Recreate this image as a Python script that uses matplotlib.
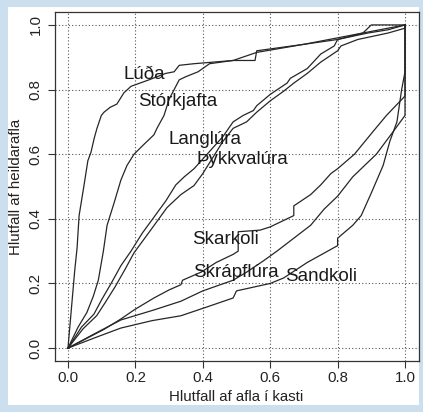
import matplotlib.pyplot as plt
from matplotlib.patches import Rectangle

plt.rcParams['font.family'] = ['Liberation Sans', 'DejaVu Sans']

# Cumulative share of total catch vs share of the catch in each haul
luda_x = [0, 0.01, 0.02, 0.027, 0.033, 0.047, 0.059, 0.068, 0.078, 0.086, 0.099, 0.107, 0.125, 0.145,
          0.166, 0.187, 0.24, 0.29, 0.315, 0.33, 0.374, 0.49, 0.555, 0.56, 0.70, 0.80, 0.875, 0.90, 1.0]
luda_y = [0, 0.12, 0.24, 0.31, 0.41, 0.50, 0.58, 0.605, 0.65, 0.68, 0.72, 0.73, 0.745, 0.755,
          0.79, 0.81, 0.83, 0.85, 0.855, 0.875, 0.88, 0.89, 0.89, 0.92, 0.94, 0.955, 0.975, 1.0, 1.0]

storkjafta_x = [0, 0.03, 0.056, 0.075, 0.09, 0.105, 0.116, 0.137, 0.157, 0.175, 0.196, 0.225, 0.255,
                0.264, 0.285, 0.30, 0.32, 0.33, 0.35, 0.374, 0.386, 0.42, 0.49, 0.56, 0.70, 0.80, 0.90, 1.0]
storkjafta_y = [0, 0.065, 0.11, 0.16, 0.21, 0.30, 0.38, 0.45, 0.52, 0.565, 0.60, 0.63, 0.66,
                0.68, 0.72, 0.77, 0.81, 0.83, 0.84, 0.85, 0.855, 0.88, 0.89, 0.915, 0.94, 0.96, 0.98, 1.0]

langlura_x = [0, 0.04, 0.077, 0.10, 0.128, 0.157, 0.187, 0.22, 0.255, 0.29, 0.32, 0.345, 0.374, 0.40,
              0.43, 0.46, 0.49, 0.52, 0.55, 0.56, 0.60, 0.65, 0.66, 0.71, 0.75, 0.79, 0.80, 0.89, 0.95, 1.0]
langlura_y = [0, 0.065, 0.105, 0.15, 0.20, 0.255, 0.30, 0.355, 0.405, 0.455, 0.505, 0.53, 0.555, 0.585,
              0.62, 0.655, 0.70, 0.72, 0.735, 0.75, 0.785, 0.82, 0.835, 0.865, 0.91, 0.935, 0.955, 0.975, 0.985, 1.0]

thykkvalura_x = [0, 0.045, 0.085, 0.11, 0.14, 0.17, 0.196, 0.246, 0.294, 0.335, 0.374, 0.40, 0.43, 0.46,
                 0.49, 0.53, 0.56, 0.60, 0.64, 0.67, 0.71, 0.75, 0.80, 0.81, 0.86, 0.905, 0.95, 1.0, 1.0]
thykkvalura_y = [0, 0.06, 0.10, 0.14, 0.19, 0.245, 0.295, 0.366, 0.435, 0.475, 0.503, 0.54, 0.59, 0.64,
                 0.68, 0.70, 0.73, 0.765, 0.795, 0.82, 0.85, 0.885, 0.92, 0.935, 0.955, 0.965, 0.975, 0.99, 1.0]

skarkoli_x = [0, 0.05, 0.107, 0.157, 0.196, 0.255, 0.30, 0.335, 0.34, 0.395, 0.44, 0.49, 0.505, 0.505,
              0.57, 0.60, 0.65, 0.67, 0.67, 0.72, 0.75, 0.78, 0.80, 0.85, 0.905, 0.945, 1.0, 1.0]
skarkoli_y = [0, 0.027, 0.058, 0.09, 0.118, 0.155, 0.18, 0.196, 0.21, 0.235, 0.265, 0.29, 0.30, 0.36,
              0.365, 0.375, 0.40, 0.41, 0.44, 0.475, 0.505, 0.54, 0.555, 0.60, 0.67, 0.72, 0.78, 1.0]

skrapflura_x = [0, 0.08, 0.157, 0.255, 0.335, 0.40, 0.49, 0.53, 0.58, 0.62, 0.67, 0.72, 0.76, 0.80,
                0.845, 0.915, 0.965, 1.0, 1.0]
skrapflura_y = [0, 0.045, 0.087, 0.118, 0.145, 0.177, 0.21, 0.235, 0.27, 0.30, 0.34, 0.38, 0.43, 0.47,
                0.53, 0.60, 0.67, 0.72, 1.0]

sandkoli_x = [0, 0.08, 0.157, 0.25, 0.335, 0.42, 0.49, 0.50, 0.60, 0.64, 0.71, 0.80, 0.80, 0.845,
              0.87, 0.90, 0.935, 0.955, 0.976, 0.99, 1.0, 1.0]
sandkoli_y = [0, 0.032, 0.062, 0.085, 0.10, 0.13, 0.155, 0.177, 0.20, 0.217, 0.265, 0.317, 0.34, 0.38,
              0.41, 0.48, 0.565, 0.64, 0.70, 0.80, 0.855, 1.0]

curves = [
    (luda_x, luda_y), (storkjafta_x, storkjafta_y), (langlura_x, langlura_y),
    (thykkvalura_x, thykkvalura_y), (skarkoli_x, skarkoli_y),
    (skrapflura_x, skrapflura_y), (sandkoli_x, sandkoli_y),
]

# label text and where it sits (left edge, baseline)
labels = ['Lúða', 'Stórkjafta', 'Langlúra', 'Þykkvalúra', 'Skarkoli', 'Skrápflúra', 'Sandkoli']
label_x = [0.164, 0.208, 0.297, 0.382, 0.367, 0.372, 0.644]
label_y = [0.833, 0.748, 0.630, 0.570, 0.323, 0.220, 0.208]

ticks = [0.0, 0.2, 0.4, 0.6, 0.8, 1.0]

fig = plt.figure(figsize=(4.23, 4.12), dpi=100)
fig.patch.set_facecolor('#cbdfee')
fig.patches.append(Rectangle((8 / 423, 7 / 412), 411 / 423, 398 / 412,
                             transform=fig.transFigure, facecolor='white',
                             edgecolor='none', zorder=-1))

ax = fig.add_axes([54.5 / 423, 1 - 361 / 412, 364 / 423, 349 / 412])

for t in ticks:
    ax.axhline(t, color='#555555', lw=0.8, ls=(0, (1, 2)), zorder=1)
    ax.axvline(t, color='#555555', lw=0.8, ls=(0, (1, 2)), zorder=1)

for xs, ys in curves:
    ax.plot(xs, ys, color='#262626', lw=0.9, zorder=2)

for name, lx, ly in zip(labels, label_x, label_y):
    ax.text(lx, ly, name, fontsize=13.5, color='#1a1a1a', ha='left', va='baseline', zorder=3)

ax.set_xlim(-0.04, 1.04)
ax.set_ylim(-0.04, 1.04)
ax.set_xticks(ticks)
ax.set_yticks(ticks)
ax.set_xticklabels([f'{t:.1f}' for t in ticks])
ax.set_yticklabels([f'{t:.1f}' for t in ticks])
ax.tick_params(axis='both', direction='out', length=5, width=0.8, labelsize=10.8,
               colors='#333333', labelcolor='#222222')
ax.tick_params(axis='x', pad=2.5)
ax.tick_params(axis='y', pad=3.5, labelrotation=90)
for lab in ax.get_yticklabels():
    lab.set_va('center')

for sp in ax.spines.values():
    sp.set_color('#333333')
    sp.set_linewidth(0.9)

ax.set_xlabel('Hlutfall af afla í kasti', fontsize=10.8, color='#222222', labelpad=3)
ax.set_ylabel('Hlutfall af heildarafla', fontsize=10.8, color='#222222', labelpad=4)

fig.savefig('out.png', dpi=100, facecolor=fig.get_facecolor())
